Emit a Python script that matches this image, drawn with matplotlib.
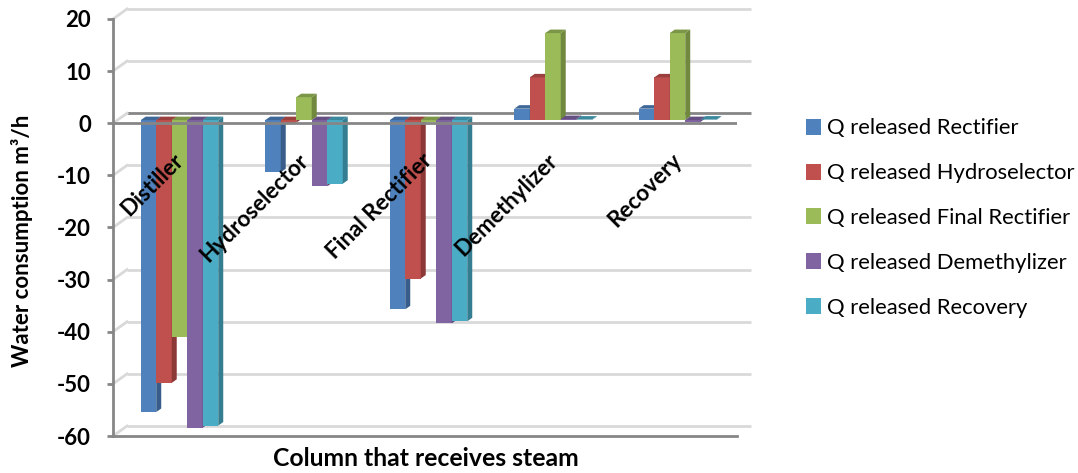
import matplotlib
matplotlib.use('Agg')
import matplotlib.pyplot as plt
from matplotlib.patches import Patch
import numpy as np

plt.rcParams['font.family'] = ['Lato', 'DejaVu Sans']
plt.rcParams['axes.unicode_minus'] = False

categories = ['Distiller', 'Hydroselector', 'Final Rectifier', 'Demethylizer', 'Recovery']
series_names = ['Q released Rectifier', 'Q released Hydroselector', 'Q released Final Rectifier',
                'Q released Demethylizer', 'Q released Recovery']
rectifier = [-56, -10, -36.3, 2.2, 2.2]
hydroselector = [-50.4, -0.5, -30.4, 8.2, 8.2]
final_rectifier = [-41.7, 4.4, -0.3, 16.7, 16.7]
demethylizer = [-59, -12.7, -39, 0.2, -0.3]
recovery = [-58.6, -12.2, -38.6, 0.1, 0.1]
yticks = [20, 10, 0, -10, -20, -30, -40, -50, -60]

colors = ['#4F81BD', '#C0504D', '#9BBB59', '#8064A2', '#4BACC6']
dark_side = ['#385D8A', '#8C3836', '#71893F', '#5C4776', '#357D91']
dark_top = ['#3F6797', '#9A403E', '#7C9647', '#664F82', '#3C899E']

# fake 3d depth, in data units
WALL_DX = 14 / 124.5
WALL_DY = 10 / 5.21
BAR_DX = 5 / 124.5
BAR_DY = 3.5 / 5.21
BAR_BASE = 0.6
BAR_W = 15.5 / 124.5

fig = plt.figure(figsize=(10.78, 4.73), dpi=100)
ax = fig.add_axes([113 / 1078, 1 - 436 / 473, (737 - 113) / 1078, (436 - 19) / 473])
ax.set_xlim(-0.534, 4.478)
ax.set_ylim(-60, 20)

# back wall gridlines and the diagonals on the side wall
x0, x1 = ax.get_xlim()
for t in yticks:
    c = '#868686' if t == 0 else '#D9D9D9'
    ax.plot([x0 + WALL_DX, x1 + WALL_DX], [t + WALL_DY, t + WALL_DY], color=c, lw=2,
            clip_on=False, zorder=1, solid_capstyle='butt')
    ax.plot([x0, x0 + WALL_DX], [t, t + WALL_DY], color='#D9D9D9', lw=2,
            clip_on=False, zorder=1)

all_series = [rectifier, hydroselector, final_rectifier, demethylizer, recovery]
z = 2
for c_idx in range(len(categories)):
    for s_idx, vals in enumerate(all_series):
        v = vals[c_idx]
        left = c_idx + (s_idx - 2.5) * BAR_W
        right = left + BAR_W
        ax.bar(left, v, BAR_W, bottom=BAR_BASE, align='edge', color=colors[s_idx],
               edgecolor='none', zorder=z, clip_on=False)
        top = BAR_BASE + max(v, 0)
        bottom = BAR_BASE + min(v, 0)
        ax.fill([right, right + BAR_DX, right + BAR_DX, right],
                [bottom, bottom + BAR_DY, top + BAR_DY, top],
                color=dark_side[s_idx], lw=0, zorder=z, clip_on=False)
        ax.fill([left, right, right + BAR_DX, left + BAR_DX],
                [top, top, top + BAR_DY, top + BAR_DY],
                color=dark_top[s_idx], lw=0, zorder=z, clip_on=False)
        z += 1

# front zero line runs over the bars
ax.axhline(0, color='#868686', lw=2, zorder=z)

for i, name in enumerate(categories):
    ax.text(i + 0.005, -6.5, name, rotation=45, rotation_mode='anchor', ha='right', va='center',
            fontsize=16.2, fontweight='bold', color='black', zorder=z + 1)

for side in ['top', 'right']:
    ax.spines[side].set_visible(False)
for side in ['left', 'bottom']:
    ax.spines[side].set_color('#868686')
    ax.spines[side].set_linewidth(2)
ax.set_xticks([])
ax.set_yticks(yticks)
ax.tick_params(axis='y', color='#868686', width=2, length=4, pad=12)
for lab in ax.get_yticklabels():
    lab.set_fontsize(16)
    lab.set_fontweight('bold')
ax.patch.set_alpha(0)

fig.text(22 / 1078, 1 - 241 / 473, 'Water consumption m\u00b3/h', rotation=90, ha='center', va='center',
         fontsize=16, fontweight='bold')
fig.text(426 / 1078, 1 - 458 / 473, 'Column that receives steam', ha='center', va='center',
         fontsize=17.8, fontweight='bold')

handles = [Patch(facecolor=c, edgecolor='none') for c in colors]
fig.legend(handles, series_names, loc='center left', bbox_to_anchor=(786 / 1078, 1 - 218 / 473),
           frameon=False, fontsize=15.8, handlelength=0.7, handleheight=0.75, handletextpad=0.25,
           labelspacing=1.13)

fig.savefig('out.png', dpi=100)
